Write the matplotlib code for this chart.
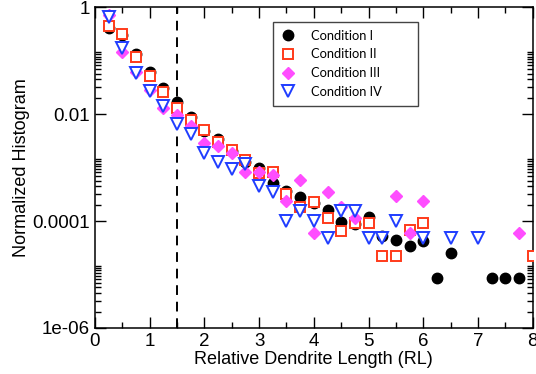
import numpy as np
import matplotlib
matplotlib.use('Agg')
import matplotlib.pyplot as plt
from matplotlib.ticker import FixedLocator, FixedFormatter, MultipleLocator

# data (x in RL, y normalized histogram)
x_c1 = [0.25, 0.5, 0.75, 1.0, 1.25, 1.5, 1.75, 2.0, 2.25, 2.5, 2.75, 3.0, 3.25, 3.5, 3.75,
        4.0, 4.25, 4.5, 4.75, 5.0, 5.25, 5.5, 5.75, 6.0, 6.25, 6.5, 7.25, 7.5, 7.75]
y_c1 = [0.413, 0.30, 0.133, 0.0628, 0.0307, 0.0172, 0.0089, 0.0049, 0.0034, 0.0021, 0.00128,
        0.000975, 0.000524, 0.000374, 0.000279, 0.00022, 0.000159, 9.75e-5, 9.0e-5, 0.000118,
        5.26e-5, 4.35e-5, 3.42e-5, 4.3e-5, 8.5e-6, 2.56e-5, 8.5e-6, 8.5e-6, 8.5e-6]

x_c2 = [0.25, 0.5, 0.75, 1.0, 1.25, 1.5, 1.75, 2.0, 2.25, 2.5, 2.75, 3.0, 3.25, 3.5, 3.75,
        4.0, 4.25, 4.5, 4.75, 5.0, 5.25, 5.5, 5.75, 6.0, 8.0]
y_c2 = [0.451, 0.315, 0.12, 0.0521, 0.0258, 0.01295, 0.00782, 0.00508, 0.00307, 0.00214,
        0.00139, 0.000796, 0.00083, 0.000326, 0.000186, 0.000228, 0.000113, 6.67e-5, 9.33e-5,
        9.33e-5, 2.22e-5, 2.22e-5, 6.97e-5, 9.33e-5, 2.22e-5]

x_c3 = [0.25, 0.5, 0.75, 1.0, 1.25, 1.5, 1.75, 2.0, 2.25, 2.5, 2.75, 3.0, 3.25, 3.5, 3.75,
        4.0, 4.25, 4.5, 4.75, 5.5, 5.75, 6.0, 7.75]
y_c3 = [0.72, 0.149, 0.0628, 0.0285, 0.0131, 0.0097, 0.00617, 0.00294, 0.00255, 0.00186,
        0.000842, 0.00083, 0.00073, 0.000238, 0.0006, 5.98e-5, 0.000351, 0.000184, 0.000113,
        0.000299, 5.91e-5, 0.000238, 6.07e-5]

x_c4 = [0.25, 0.5, 0.75, 1.0, 1.25, 1.5, 1.75, 2.0, 2.25, 2.5, 2.75, 3.0, 3.25, 3.5, 3.75,
        4.0, 4.25, 4.5, 4.75, 5.0, 5.25, 5.5, 6.0, 6.5, 7.0]
y_c4 = [0.673, 0.172, 0.0601, 0.0277, 0.0145, 0.00658, 0.00437, 0.00191, 0.00126, 0.000946,
        0.00117, 0.000454, 0.000356, 0.000102, 0.000155, 0.0001, 4.93e-5, 0.000155, 0.000154,
        4.93e-5, 4.93e-5, 0.000102, 4.93e-5, 4.93e-5, 4.93e-5]

labels = ['Condition I', 'Condition II', 'Condition III', 'Condition IV']
cutoff = 1.5

y_ticks = [1, 1e-2, 1e-4, 1e-6]
y_ticklabels = ['1', '0.01', '0.0001', '1e-06']

plt.rcParams['font.family'] = ['Liberation Sans', 'DejaVu Sans']

fig = plt.figure(figsize=(5.36, 3.74), dpi=100)
ax = fig.add_axes([0.177, 0.123, 0.817, 0.857])

ax.plot(x_c1, y_c1, 'o', ms=7.5, color='black', mec='black', label=labels[0], zorder=3)
ax.plot(x_c2, y_c2, 's', ms=7.5, mfc='white', mec='#ff3a1a', mew=1.4, label=labels[1], zorder=4)
ax.plot(x_c3, y_c3, 'D', ms=6.5, color='#ff4dff', mec='#ff4dff', label=labels[2], zorder=5)
ax.plot(x_c4, y_c4, 'v', ms=8, mfc='white', mec='#1f3dff', mew=1.4, label=labels[3], zorder=6)

ax.axvline(cutoff, color='black', ls=(0, (5, 3.5)), lw=1.4, zorder=2)

ax.set_yscale('log')
ax.set_xlim(0, 8)
ax.set_ylim(1e-6, 1)

ax.yaxis.set_major_locator(FixedLocator(y_ticks))
ax.yaxis.set_major_formatter(FixedFormatter(y_ticklabels))
minor = [d * k for d in [1e-2, 1e-4, 1e-6] for k in np.linspace(2, 14.5, 11)]
ax.yaxis.set_minor_locator(FixedLocator(minor))
ax.yaxis.set_minor_formatter(FixedFormatter([''] * len(minor)))

ax.xaxis.set_major_locator(MultipleLocator(1))
ax.xaxis.set_minor_locator(MultipleLocator(0.5))

ax.tick_params(which='both', direction='in', top=True, right=True, labelsize=13.5)
ax.tick_params(which='major', length=8, width=1)
ax.tick_params(which='minor', length=4, width=1)
for s in ax.spines.values():
    s.set_linewidth(1.1)

ax.set_xlabel('Relative Dendrite Length (RL)', fontsize=13, labelpad=1)
ax.set_ylabel('Normalized Histogram', fontsize=13, labelpad=2)

leg = ax.legend(loc='upper left', bbox_to_anchor=(0.406, 0.955, 0.331, 0.0), mode='expand',
                fancybox=False, edgecolor='#444444', framealpha=1,
                prop={'family': 'Lato', 'size': 9.3},
                handletextpad=1.2, labelspacing=0.52, borderpad=0.6, handlelength=1.2,
                borderaxespad=0)
leg.get_frame().set_linewidth(1.0)

fig.savefig('out.png', dpi=100)
